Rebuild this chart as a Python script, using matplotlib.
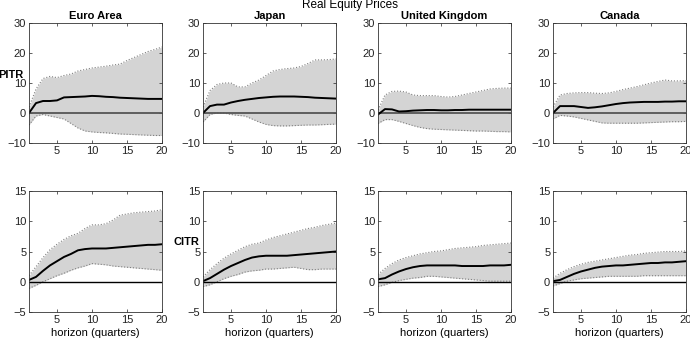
import numpy as np
import matplotlib.pyplot as plt

plt.rcParams['font.family'] = ['Liberation Sans', 'DejaVu Sans']

horizon = np.arange(1, 21)
countries = ['Euro Area', 'Japan', 'United Kingdom', 'Canada']

# --- PITR (top row) ---
pitr_med = {
    'Euro Area': [0, 3.3, 4, 4, 4.2, 5.2, 5.3, 5.4, 5.5, 5.7, 5.6, 5.4, 5.3, 5.1, 5, 4.9, 4.8, 4.7, 4.7, 4.7],
    'Japan': [0, 2.3, 2.8, 2.8, 3.5, 4, 4.4, 4.7, 5, 5.2, 5.4, 5.5, 5.5, 5.5, 5.4, 5.3, 5.1, 5, 4.9, 4.8],
    'United Kingdom': [-0.5, 1.3, 1.2, 0.5, 0.6, 0.8, 0.9, 1, 1, 0.9, 0.9, 1, 1, 1.1, 1.1, 1.1, 1.1, 1.1, 1.1, 1.1],
    'Canada': [0, 2.3, 2.3, 2.3, 2, 1.7, 1.9, 2.2, 2.6, 3, 3.3, 3.5, 3.6, 3.7, 3.7, 3.7, 3.8, 3.8, 3.9, 3.9],
}
pitr_hi = {
    'Euro Area': [2, 8, 11.5, 12.2, 11.8, 12.5, 13, 14, 14.5, 15, 15.3, 15.6, 16, 16.3, 17.5, 18.5, 19.5, 20.5, 21.2, 22],
    'Japan': [2, 7.5, 9.5, 10, 10, 8.7, 8.7, 10, 11, 12.5, 14, 14.5, 14.8, 15, 15.5, 16.5, 17.7, 17.7, 17.8, 18],
    'United Kingdom': [1, 6, 7.2, 7.3, 7, 6, 5.8, 5.8, 5.8, 5.5, 5.3, 5.5, 6, 6.5, 7, 7.5, 8, 8.2, 8.3, 8.3],
    'Canada': [2, 6, 6.5, 6.7, 6.8, 6.8, 6.6, 6.5, 6.7, 7.2, 7.8, 8.3, 8.8, 9.4, 10, 10.5, 11, 10.7, 10.7, 10.8],
}
pitr_lo = {
    'Euro Area': [-4, -1, -0.5, -1, -1.5, -2, -3.5, -5, -6, -6.3, -6.5, -6.6, -6.8, -7, -7.1, -7.2, -7.3, -7.4, -7.5, -7.5],
    'Japan': [-3, -0.5, 0, 0, -0.5, -0.8, -1, -2, -3, -3.8, -4.2, -4.3, -4.3, -4.2, -4.1, -4, -4, -3.9, -3.8, -3.7],
    'United Kingdom': [-3.5, -2.2, -2.2, -2.8, -3.5, -4.2, -4.8, -5.2, -5.4, -5.5, -5.6, -5.7, -5.8, -5.9, -6, -6, -6.1, -6.2, -6.2, -6.3],
    'Canada': [-2, -0.8, -1, -1.3, -1.8, -2.3, -2.8, -3.3, -3.4, -3.4, -3.4, -3.4, -3.4, -3.3, -3.2, -3.1, -3, -2.9, -2.9, -2.8],
}

# --- CITR (bottom row) ---
citr_med = {
    'Euro Area': [0.3, 0.8, 1.8, 2.7, 3.4, 4.1, 4.6, 5.2, 5.4, 5.5, 5.5, 5.5, 5.6, 5.7, 5.8, 5.9, 6, 6.1, 6.1, 6.2],
    'Japan': [0.1, 0.6, 1.3, 2, 2.6, 3.1, 3.6, 4, 4.2, 4.3, 4.3, 4.3, 4.3, 4.4, 4.5, 4.6, 4.7, 4.8, 4.9, 5.0],
    'United Kingdom': [0.4, 0.6, 1.2, 1.7, 2.1, 2.4, 2.6, 2.7, 2.7, 2.7, 2.7, 2.7, 2.6, 2.6, 2.6, 2.6, 2.7, 2.7, 2.7, 2.8],
    'Canada': [0.1, 0.3, 0.8, 1.3, 1.7, 2, 2.3, 2.5, 2.6, 2.7, 2.7, 2.8, 2.9, 3, 3.1, 3.1, 3.2, 3.2, 3.3, 3.4],
}
citr_hi = {
    'Euro Area': [1, 2.5, 4, 5.3, 6.2, 7, 7.6, 8, 8.8, 9.4, 9.4, 9.6, 10.2, 11, 11.2, 11.4, 11.5, 11.6, 11.7, 11.9],
    'Japan': [0.8, 2, 3, 3.9, 4.6, 5.2, 5.8, 6.2, 6.4, 6.9, 7.3, 7.6, 7.9, 8.2, 8.5, 8.8, 9, 9.3, 9.5, 9.7],
    'United Kingdom': [1.2, 2.2, 3, 3.6, 4, 4.3, 4.6, 4.8, 5, 5.1, 5.3, 5.5, 5.6, 5.7, 5.8, 6, 6.1, 6.2, 6.3, 6.4],
    'Canada': [0.6, 1.4, 2, 2.5, 2.9, 3.2, 3.4, 3.6, 3.8, 4, 4.2, 4.4, 4.5, 4.7, 4.8, 4.9, 5, 5, 5, 5.1],
}
citr_lo = {
    'Euro Area': [-1.1, -0.6, 0, 0.5, 1, 1.4, 1.9, 2.3, 2.6, 3, 2.9, 2.8, 2.6, 2.5, 2.4, 2.3, 2.2, 2.1, 2, 1.9],
    'Japan': [-0.8, -0.5, 0, 0.5, 0.9, 1.2, 1.6, 1.8, 1.9, 2.1, 2.1, 2.2, 2.3, 2.4, 2.2, 2, 2, 2.1, 2.1, 2.1],
    'United Kingdom': [-0.8, -0.5, -0.1, 0.2, 0.4, 0.6, 0.7, 0.9, 0.9, 0.8, 0.7, 0.6, 0.5, 0.4, 0.3, 0.2, 0.1, 0.1, 0.1, 0.1],
    'Canada': [-0.7, -0.3, 0.1, 0.3, 0.5, 0.6, 0.7, 0.8, 0.9, 0.9, 0.9, 0.9, 0.9, 1, 1, 1, 1, 1, 1, 1],
}

W, H = 690, 339
fig = plt.figure(figsize=(W / 100, H / 100), dpi=100)

lefts = [29, 203, 378, 553]
width = 133
rows = [(23, 143, pitr_med, pitr_hi, pitr_lo, (-10, 30), [-10, 0, 10, 20, 30]),
        (191, 312, citr_med, citr_hi, citr_lo, (-5, 15), [-5, 0, 5, 10, 15])]

for r, (top, bot, med, hi, lo, ylim, yticks) in enumerate(rows):
    for c, name in enumerate(countries):
        ax = fig.add_axes([lefts[c] / W, 1 - bot / H, width / W, (bot - top) / H])
        ax.fill_between(horizon, lo[name], hi[name], color='#d4d4d4', lw=0)
        ax.plot(horizon, hi[name], color='#808080', ls=':', lw=0.8)
        ax.plot(horizon, lo[name], color='#808080', ls=':', lw=0.8)
        if r == 0:
            ax.axhline(0, color='#555555', lw=1.3)
        else:
            ax.axhline(0, color='black', lw=1.0)
        ax.plot(horizon, med[name], color='black', lw=1.4)
        ax.set_xlim(1, 20)
        ax.set_ylim(*ylim)
        ax.set_xticks([5, 10, 15, 20])
        ax.set_yticks(yticks)
        ax.tick_params(direction='in', top=True, right=True, labelsize=8,
                       length=2.5, width=0.5, pad=2, colors='#222222')
        for s in ax.spines.values():
            s.set_linewidth(0.6)
            s.set_color('#333333')
        if r == 0:
            ax.set_title(name, fontsize=8, fontweight='bold', pad=3)
        else:
            ax.set_xlabel('horizon (quarters)', fontsize=8, labelpad=2)

fig.text(11 / W, 1 - 75 / H, 'PITR', fontsize=8, fontweight='bold', ha='center', va='center')
fig.text(186 / W, 1 - 242 / H, 'CITR', fontsize=8, fontweight='bold', ha='center', va='center')
fig.text(350 / W, 1 - 5 / H, 'Real Equity Prices', fontsize=8.5, ha='center', va='center')

fig.savefig('out.png', dpi=100)
